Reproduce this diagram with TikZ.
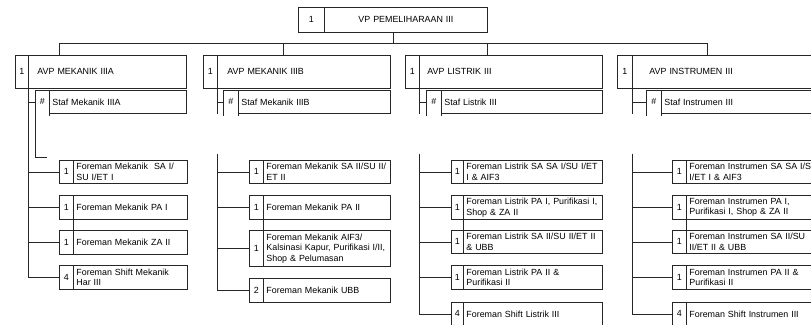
\documentclass[tikz,border=0pt]{standalone}
\usepackage{fontspec}
\setmainfont{Liberation Sans}
\usetikzlibrary{calc}
\tikzset{
  box/.style={draw=black!85, line width=0.8pt, inner sep=0pt, anchor=north west,
    font=\fontsize{8.9}{10.6}\selectfont},
  numcell/.style={box, align=center},
  txtcell/.style={box, align=left},
  wire/.style={draw=black!85, line width=0.8pt},
}
% name, x1, xdiv, x2, y1, y2, number, pad, text
\newcommand\orgbox[9]{%
  \pgfmathsetmacro\obw{#3-#2}%
  \pgfmathsetmacro\obh{#6-#5}%
  \pgfmathsetmacro\obtw{#4-#3}%
  \pgfmathsetmacro\obtx{#4-#3-2*#8}%
  \node[numcell, minimum width=\obw pt, minimum height=\obh pt] (#1n) at (#2,#5) {#7};
  \node[txtcell, minimum width=\obtw pt, minimum height=\obh pt, text width=\obtx pt, inner xsep=#8pt] (#1t) at (#3,#5) {#9};
}
% staff box: number cell without bottom line
\newcommand\stafbox[6]{%
  \pgfmathsetmacro\obw{#3-#2}%
  \pgfmathsetmacro\obtw{#4-#3}%
  \pgfmathsetmacro\obtx{#4-#3-6}%
  \node[numcell, draw=none, minimum width=\obw pt, minimum height=23pt] (#1n) at (#2,90) {#5};
  \draw[wire] ($(#1n.south west)+(0,2)$) -- (#1n.north west) -- (#1n.north east) -- ($(#1n.south east)+(0,2)$);
  \node[txtcell, minimum width=\obtw pt, minimum height=23pt, text width=\obtx pt, inner xsep=3pt] (#1t) at (#3,90) {#6};
}
\begin{document}
\begin{tikzpicture}[x=1pt,y=-1pt]
\useasboundingbox (0,0) rectangle (811,324);
\clip (0,0) rectangle (811,324);

% top box
\node[numcell, minimum width=26pt, minimum height=25pt] (topn) at (298,7) {1};
\node[box, align=center, minimum width=163pt, minimum height=25pt, text width=157pt, inner xsep=3pt] (topt) at (324,7) {VP PEMELIHARAAN III};

% AVP boxes
\orgbox{a1}{15}{28}{186}{55}{88}{1}{9}{AVP MEKANIK IIIA}
\orgbox{a2}{203}{217}{390}{55}{88}{1}{10}{AVP MEKANIK IIIB}
\orgbox{a3}{405}{419}{602}{55}{88}{1}{8}{AVP LISTRIK III}
\orgbox{a4}{617}{632}{830}{55}{88}{1}{17}{AVP INSTRUMEN III}

% staff boxes
\stafbox{s1}{35}{49}{186}{\#}{Staf Mekanik IIIA}
\stafbox{s2}{223}{238}{390}{\#}{Staf Mekanik IIIB}
\stafbox{s3}{426}{441}{602}{\#}{Staf Listrik III}
\stafbox{s4}{646}{661}{830}{\#}{Staf Instrumen III}

% column 1
\orgbox{f11}{59}{73}{187}{160}{183}{1}{3}{\mbox{Foreman Mekanik\ \ SA I/}\\\mbox{SU I/ET I}}
\orgbox{f12}{59}{73}{187}{195}{219}{1}{3}{\mbox{Foreman Mekanik PA I}}
\orgbox{f13}{59}{73}{187}{230}{254}{1}{3}{\mbox{Foreman Mekanik ZA II}}
\orgbox{f14}{59}{73}{187}{265}{289}{4}{3}{\mbox{Foreman Shift Mekanik}\\\mbox{Har III}}

% column 2
\orgbox{f21}{249}{263}{390}{160}{183}{1}{3}{\mbox{Foreman Mekanik SA II/SU II/}\\\mbox{ET II}}
\orgbox{f22}{249}{263}{390}{195}{219}{1}{3}{\mbox{Foreman Mekanik PA II}}
\orgbox{f23}{249}{263}{390}{230}{266}{1}{3}{\mbox{Foreman Mekanik AIF3/}\\\mbox{Kalsinasi Kapur, Purifikasi I/II,}\\\mbox{Shop \& Pelumasan}}
\orgbox{f24}{249}{263}{390}{278}{302}{2}{3}{\mbox{Foreman Mekanik UBB}}

% column 3
\orgbox{f31}{451}{463}{602}{160}{183}{1}{3}{\mbox{Foreman Listrik SA SA I/SU I/ET}\\\mbox{I \& AIF3}}
\orgbox{f32}{451}{463}{602}{195}{219}{1}{3}{\mbox{Foreman Listrik PA I, Purifikasi I,}\\\mbox{Shop \& ZA II}}
\orgbox{f33}{451}{463}{602}{230}{253}{1}{3}{\mbox{Foreman Listrik SA II/SU II/ET II}\\\mbox{\& UBB}}
\orgbox{f34}{451}{463}{602}{265}{289}{1}{3}{\mbox{Foreman Listrik PA II \&}\\\mbox{Purifikasi II}}
\orgbox{f35}{451}{463}{602}{302}{325}{4}{3}{\mbox{Foreman Shift Listrik III}}

% column 4
\orgbox{f41}{672}{686}{830}{160}{183}{1}{3}{\mbox{Foreman Instrumen SA SA I/SU I/}\\\mbox{I/ET I \& AIF3}}
\orgbox{f42}{672}{686}{830}{195}{219}{1}{3}{\mbox{Foreman Instrumen PA I,}\\\mbox{Purifikasi I, Shop \& ZA II}}
\orgbox{f43}{672}{686}{830}{230}{253}{1}{3}{\mbox{Foreman Instrumen SA II/SU}\\\mbox{II/ET II \& UBB}}
\orgbox{f44}{672}{686}{830}{265}{289}{1}{3}{\mbox{Foreman Instrumen PA II \&}\\\mbox{Purifikasi II}}
\orgbox{f45}{672}{686}{830}{302}{325}{4}{3}{\mbox{Foreman Shift Instrumen III}}

% top connectors
\coordinate (topmid) at ($(topn.south west)!0.5!(topt.south east)$);
\coordinate (d1) at (59,55);
\coordinate (d2) at (283,55);
\coordinate (d3) at (487,55);
\coordinate (d4) at (707,55);
\foreach \d in {d1,d2,d3,d4}
  \draw[wire] (topmid) -- ++(0,11) -| (\d);

% column 1 connectors
\draw[wire] (a1n.south east) |- (s1n.west);
\foreach \i in {1,2,3,4}
  \draw[wire] (a1n.south east) |- (f1\i n.west);
\coordinate (L1) at (47,157);
\draw[wire] (s1n.north west) |- (L1);
\draw[wire] (f12n.south east) -- (f13n.north east);

% column 2 connectors
\draw[wire] (a2n.south east) |- (s2n.west);
\draw[wire] (a2n.south east) -- (a2n.south east |- s2n.south);
\path (a2n.south east) ++(0,65) coordinate (g2);
\foreach \i in {1,2,3,4}
  \draw[wire] (g2) |- (f2\i n.west);
\draw[wire] (f22n.south east) -- (f23n.north east);

% column 3 connectors
\draw[wire] (a3n.south east) |- (s3n.west);
\draw[wire] (a3n.south east) -- (a3n.south east |- s3n.south);
\path (a3n.south east) ++(0,65) coordinate (g3);
\foreach \i in {1,2,3,4,5}
  \draw[wire] (g3) |- (f3\i n.west);
\draw[wire] (f32n.south east) -- (f33n.north east);

% column 4 connectors
\draw[wire] (a4n.south east) |- (s4n.west);
\draw[wire] (a4n.south east) -- (a4n.south east |- s4n.south);
\path (a4n.south east) ++(0,65) coordinate (g4);
\foreach \i in {1,2,3,4,5}
  \draw[wire] (g4) |- (f4\i n.west);
\draw[wire] (f42n.south east) -- (f43n.north east);
\end{tikzpicture}
\end{document}
